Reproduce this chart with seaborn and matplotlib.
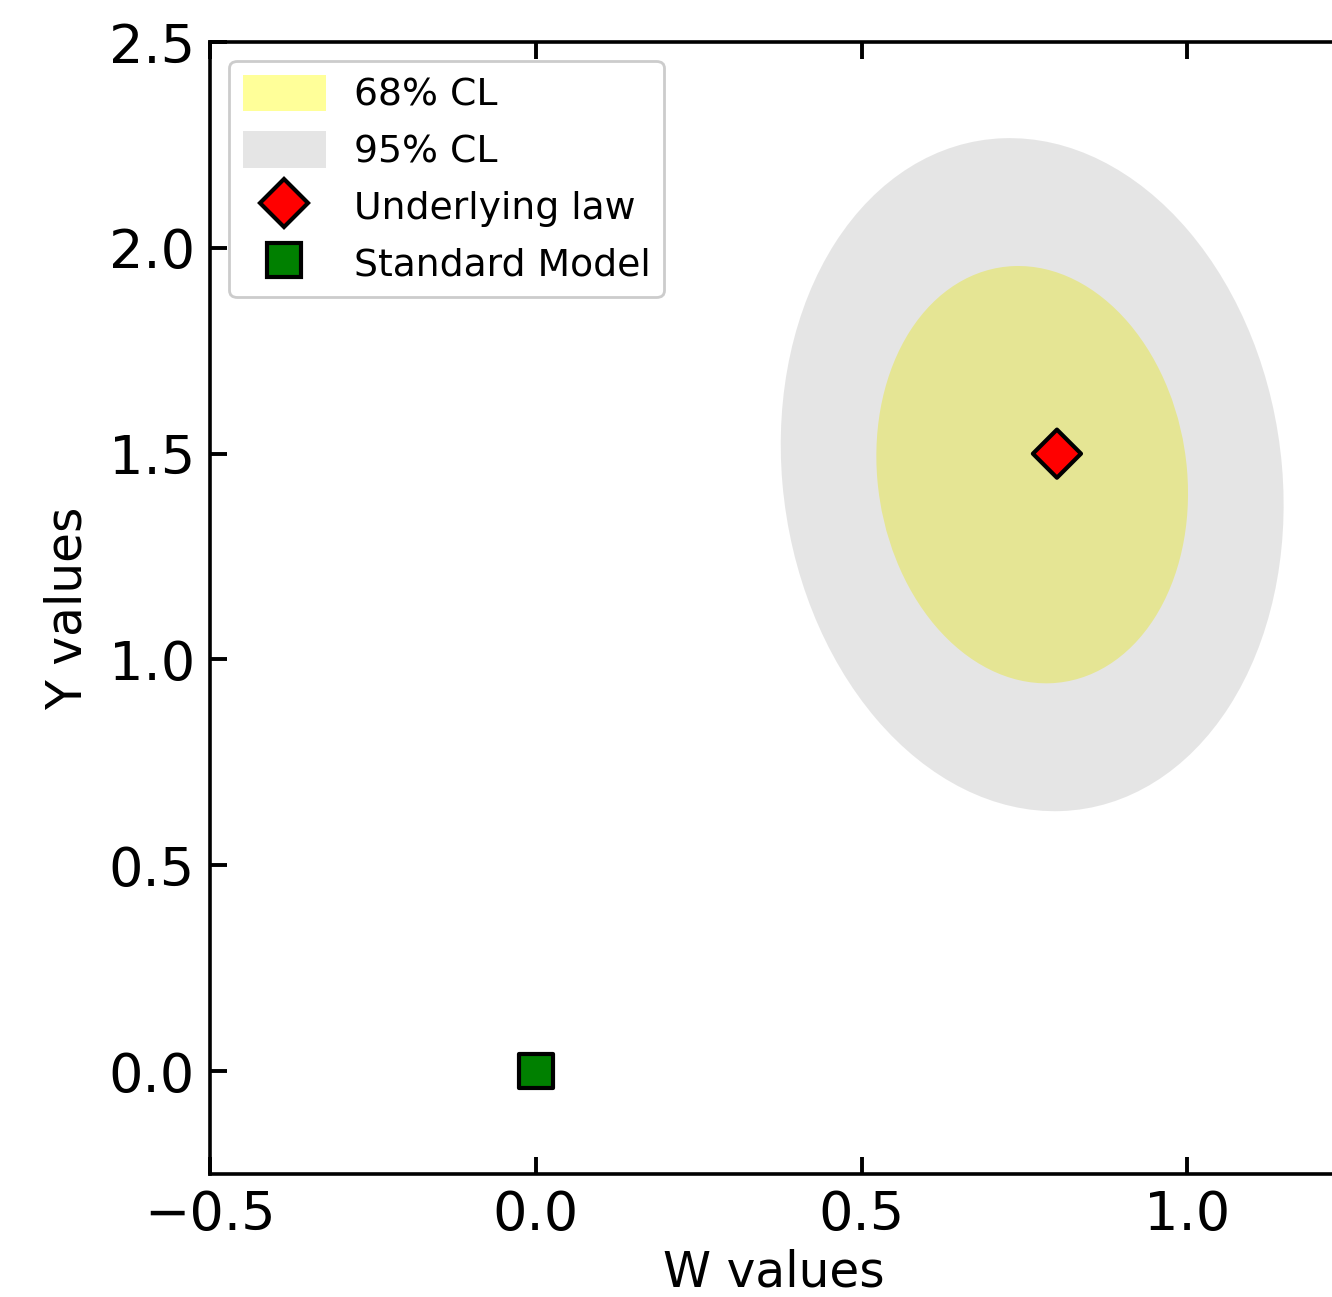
import numpy as np
import pandas as pd
import matplotlib
matplotlib.use("Agg")
import matplotlib.pyplot as plt
from matplotlib.patches import Ellipse, Patch
from matplotlib.lines import Line2D
import seaborn as sns

sns.set_theme(style="ticks", rc={
    "text.color": "black", "axes.labelcolor": "black", "axes.edgecolor": "black",
    "xtick.color": "black", "ytick.color": "black",
})
plt.rcParams['font.family'] = ['DejaVu Sans']

# --- data ---
ellipse_center = (0.762, 1.449)
cl_labels = ["68% CL", "95% CL"]
cl_widths = [0.476, 0.768]
cl_heights = [1.015, 1.637]
cl_angle = 3.1

point_labels = ["Underlying law", "Standard Model"]
point_w = [0.8, 0.0]
point_y = [1.5, 0.0]
point_markers = ["D", "s"]
point_colors = ["red", "green"]

x_ticks = [-0.5, 0.0, 0.5, 1.0]
y_ticks = [0.0, 0.5, 1.0, 1.5, 2.0, 2.5]

points = pd.DataFrame({"W": point_w, "Y": point_y, "label": point_labels})

fig = plt.figure(figsize=(6.66, 6.485), dpi=200)
ax = fig.add_axes([0.1577, 0.0948, 0.8461, 0.8728])

# confidence regions (grey drawn over the yellow one)
ax.add_patch(Ellipse(ellipse_center, cl_widths[0], cl_heights[0], angle=cl_angle,
                     facecolor="yellow", alpha=0.4, edgecolor="none", zorder=1))
ax.add_patch(Ellipse(ellipse_center, cl_widths[1], cl_heights[1], angle=cl_angle,
                     facecolor="gray", alpha=0.2, edgecolor="none", zorder=2))

sns.scatterplot(data=points, x="W", y="Y", hue="label", style="label",
                palette=dict(zip(point_labels, point_colors)),
                markers=dict(zip(point_labels, point_markers)),
                s=150, edgecolor="black", linewidth=1.5, zorder=3, ax=ax,
                legend=False)

ax.set_xlim(-0.5, 1.23)
ax.set_ylim(-0.25, 2.5)
ax.set_xticks(x_ticks)
ax.set_yticks(y_ticks)
ax.set_xlabel("W values", fontsize=17.5, labelpad=2.5)
ax.set_ylabel("Y values", fontsize=17.5, labelpad=6)
ax.tick_params(direction="in", length=6, width=1.4, labelsize=19.5,
               top=True, right=False, pad=5.5)
for sp in ax.spines.values():
    sp.set_linewidth(1.3)

# legend in the reference order
handles = [
    Patch(facecolor="yellow", alpha=0.4, edgecolor="none"),
    Patch(facecolor="gray", alpha=0.2, edgecolor="none"),
    Line2D([], [], ls="none", marker="D", ms=12, mfc="red", mec="black", mew=1.5),
    Line2D([], [], ls="none", marker="s", ms=12.5, mfc="green", mec="black", mew=1.5),
]
ax.legend(handles, cl_labels + point_labels, loc="upper left", fontsize=13.6,
          handlelength=2.22, handleheight=1.1, handletextpad=0.72,
          labelspacing=0.47, borderpad=0.36, borderaxespad=0.5, framealpha=1)

fig.savefig("out.png", dpi=200)
